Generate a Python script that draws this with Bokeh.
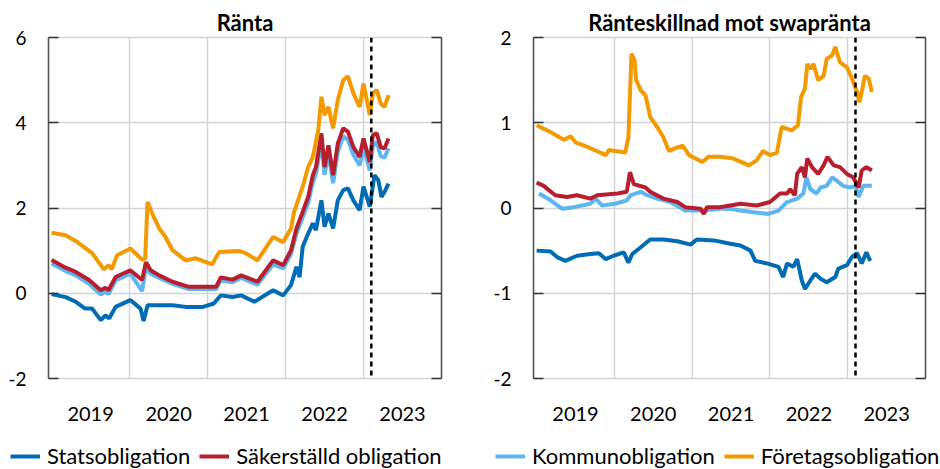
from bokeh.plotting import figure
from bokeh.models import FixedTicker, LinearAxis, Span, Legend, LegendItem, Range1d
from bokeh.layouts import column, row
from bokeh.embed import file_html
from bokeh.resources import INLINE

# ---------------- data (decimal years) ----------------
# Left panel: Ränta (interest rate, %)
rate_stats_t = [2019.00, 2019.18, 2019.31, 2019.43, 2019.52, 2019.63, 2019.69, 2019.74, 2019.82, 2020.01,
                2020.14, 2020.18, 2020.23, 2020.38, 2020.55, 2020.72, 2020.94, 2021.08, 2021.17, 2021.32,
                2021.43, 2021.60, 2021.84, 2021.97, 2022.07, 2022.14, 2022.18, 2022.22, 2022.29, 2022.35,
                2022.39, 2022.46, 2022.50, 2022.55, 2022.61, 2022.67, 2022.74, 2022.80, 2022.87, 2022.95,
                2023.00, 2023.08, 2023.14, 2023.19, 2023.23, 2023.27, 2023.32]
rate_stats_v = [-0.02, -0.09, -0.20, -0.36, -0.36, -0.63, -0.52, -0.59, -0.32, -0.16,
                -0.36, -0.65, -0.28, -0.28, -0.28, -0.32, -0.32, -0.24, -0.05, -0.09,
                -0.05, -0.20, 0.07, -0.05, 0.19, 0.62, 0.38, 1.09, 1.40, 1.64,
                1.48, 2.18, 1.56, 1.87, 1.52, 2.18, 2.42, 2.46, 2.18, 1.95,
                2.50, 2.03, 2.77, 2.65, 2.26, 2.38, 2.57]

rate_sak_t = [2019.00, 2019.18, 2019.31, 2019.48, 2019.63, 2019.69, 2019.73, 2019.82, 2020.01, 2020.16,
              2020.21, 2020.27, 2020.38, 2020.55, 2020.76, 2020.94, 2021.11, 2021.17, 2021.32, 2021.43,
              2021.64, 2021.84, 2021.97, 2022.07, 2022.14, 2022.22, 2022.29, 2022.35, 2022.39, 2022.46,
              2022.50, 2022.55, 2022.61, 2022.67, 2022.74, 2022.80, 2022.87, 2022.95, 2023.00, 2023.08,
              2023.12, 2023.17, 2023.22, 2023.27, 2023.32]
rate_sak_v = [0.78, 0.60, 0.50, 0.31, 0.07, 0.13, 0.07, 0.38, 0.54, 0.31,
              0.73, 0.54, 0.42, 0.27, 0.15, 0.15, 0.15, 0.37, 0.32, 0.42,
              0.27, 0.77, 0.66, 1.01, 1.52, 1.91, 2.26, 2.77, 2.96, 3.75,
              2.96, 3.47, 2.77, 3.51, 3.87, 3.79, 3.43, 3.20, 3.63, 3.08,
              3.71, 3.75, 3.43, 3.40, 3.63]

rate_kom_t = rate_sak_t
rate_kom_v = [0.70, 0.52, 0.42, 0.22, -0.03, 0.04, -0.02, 0.30, 0.46, 0.05,
              0.60, 0.46, 0.36, 0.22, 0.10, 0.10, 0.10, 0.30, 0.26, 0.36,
              0.20, 0.68, 0.58, 0.92, 1.40, 1.78, 2.12, 2.60, 2.80, 3.55,
              2.78, 3.28, 2.58, 3.32, 3.68, 3.60, 3.25, 3.00, 3.42, 2.88,
              3.45, 3.55, 3.22, 3.18, 3.40]

rate_for_t = [2019.00, 2019.18, 2019.33, 2019.52, 2019.67, 2019.73, 2019.77, 2019.84, 2020.01, 2020.16,
              2020.20, 2020.23, 2020.29, 2020.38, 2020.46, 2020.55, 2020.72, 2020.85, 2021.06, 2021.15,
              2021.41, 2021.49, 2021.64, 2021.84, 2021.97, 2022.07, 2022.11, 2022.22, 2022.29, 2022.35,
              2022.42, 2022.46, 2022.50, 2022.55, 2022.61, 2022.67, 2022.74, 2022.80, 2022.87, 2022.95,
              2023.00, 2023.08, 2023.12, 2023.17, 2023.22, 2023.27, 2023.32]
rate_for_v = [1.42, 1.36, 1.20, 0.94, 0.56, 0.66, 0.56, 0.89, 1.05, 0.79,
              0.82, 2.14, 1.87, 1.52, 1.32, 1.01, 0.77, 0.82, 0.68, 0.97,
              0.99, 0.94, 0.77, 1.32, 1.20, 1.52, 1.91, 2.50, 2.96, 3.20,
              3.83, 4.61, 4.18, 4.37, 3.87, 4.53, 5.00, 5.09, 4.69, 4.37,
              4.92, 4.18, 4.69, 4.77, 4.45, 4.37, 4.65]

# Right panel: Ränteskillnad mot swapränta (spread, percentage points)
spr_stats_t = [2019.00, 2019.18, 2019.27, 2019.37, 2019.52, 2019.69, 2019.80, 2019.89, 2019.99, 2020.12,
               2020.18, 2020.23, 2020.34, 2020.46, 2020.63, 2020.81, 2020.98, 2021.06, 2021.28, 2021.49,
               2021.62, 2021.75, 2021.81, 2021.96, 2022.11, 2022.17, 2022.22, 2022.30, 2022.35, 2022.41,
               2022.45, 2022.52, 2022.58, 2022.65, 2022.73, 2022.84, 2022.88, 2022.99, 2023.05, 2023.12,
               2023.18, 2023.24, 2023.29]
spr_stats_v = [-0.50, -0.51, -0.58, -0.62, -0.56, -0.54, -0.53, -0.60, -0.56, -0.52,
               -0.64, -0.54, -0.46, -0.37, -0.37, -0.39, -0.43, -0.37, -0.38, -0.42,
               -0.44, -0.50, -0.62, -0.65, -0.69, -0.81, -0.65, -0.69, -0.60, -0.85,
               -0.95, -0.85, -0.77, -0.83, -0.87, -0.81, -0.71, -0.67, -0.58, -0.53,
               -0.65, -0.52, -0.62]

spr_sak_t = [2019.00, 2019.09, 2019.24, 2019.39, 2019.52, 2019.69, 2019.78, 2020.04, 2020.16, 2020.20,
             2020.25, 2020.40, 2020.46, 2020.63, 2020.81, 2020.91, 2021.11, 2021.15, 2021.19, 2021.36,
             2021.49, 2021.62, 2021.83, 2022.00, 2022.13, 2022.22, 2022.26, 2022.32, 2022.35, 2022.41,
             2022.45, 2022.48, 2022.54, 2022.62, 2022.69, 2022.74, 2022.82, 2022.90, 2022.99, 2023.07,
             2023.14, 2023.18, 2023.24, 2023.31]
spr_sak_v = [0.30, 0.26, 0.15, 0.13, 0.15, 0.11, 0.15, 0.17, 0.19, 0.42,
             0.28, 0.24, 0.19, 0.11, 0.07, 0.01, -0.01, -0.07, 0.01, 0.01,
             0.03, 0.05, 0.03, 0.07, 0.17, 0.17, 0.22, 0.15, 0.40, 0.48,
             0.36, 0.58, 0.48, 0.40, 0.50, 0.60, 0.50, 0.48, 0.40, 0.36,
             0.24, 0.44, 0.48, 0.44]

spr_kom_t = [2019.03, 2019.18, 2019.33, 2019.48, 2019.69, 2019.76, 2019.84, 2020.01, 2020.16, 2020.21,
             2020.34, 2020.42, 2020.55, 2020.72, 2020.91, 2021.15, 2021.36, 2021.49, 2021.62, 2021.79,
             2021.98, 2022.11, 2022.22, 2022.35, 2022.43, 2022.47, 2022.52, 2022.60, 2022.65, 2022.73,
             2022.80, 2022.86, 2022.94, 2023.03, 2023.10, 2023.14, 2023.20, 2023.31]
spr_kom_v = [0.17, 0.09, -0.01, 0.01, 0.05, 0.11, 0.03, 0.05, 0.09, 0.15,
             0.19, 0.15, 0.11, 0.07, -0.03, -0.03, -0.01, -0.01, -0.03, -0.05,
             -0.07, -0.03, 0.07, 0.11, 0.17, 0.36, 0.22, 0.17, 0.24, 0.26,
             0.36, 0.32, 0.26, 0.24, 0.26, 0.13, 0.26, 0.26]

spr_for_t = [2019.00, 2019.18, 2019.35, 2019.44, 2019.50, 2019.67, 2019.89, 2019.93, 2020.14, 2020.18,
             2020.22, 2020.26, 2020.28, 2020.34, 2020.40, 2020.46, 2020.55, 2020.63, 2020.70, 2020.81,
             2020.88, 2020.96, 2021.13, 2021.21, 2021.36, 2021.53, 2021.73, 2021.83, 2021.91, 2022.00,
             2022.09, 2022.15, 2022.28, 2022.36, 2022.40, 2022.45, 2022.48, 2022.52, 2022.56, 2022.62,
             2022.69, 2022.73, 2022.80, 2022.84, 2022.90, 2022.99, 2023.05, 2023.12, 2023.15, 2023.18,
             2023.22, 2023.27, 2023.31]
spr_for_v = [0.97, 0.89, 0.80, 0.84, 0.77, 0.71, 0.62, 0.68, 0.65, 0.83,
             1.81, 1.73, 1.50, 1.38, 1.32, 1.07, 0.95, 0.83, 0.67, 0.71,
             0.73, 0.62, 0.54, 0.60, 0.60, 0.58, 0.50, 0.56, 0.67, 0.62,
             0.65, 0.95, 0.91, 0.97, 1.30, 1.40, 1.69, 1.63, 1.69, 1.50,
             1.55, 1.75, 1.79, 1.89, 1.71, 1.65, 1.53, 1.36, 1.24, 1.36,
             1.55, 1.52, 1.36]

year_labels = ["2019", "2020", "2021", "2022", "2023"]
year_label_pos = [2019.5, 2020.5, 2021.5, 2022.5, 2023.5]
year_grid = [2020, 2021, 2022, 2023]
marker_date = 2023.10
left_yticks = [-2, 0, 2, 4, 6]
right_yticks = [-2, -1, 0, 1, 2]
series_names = ["Statsobligation", "Säkerställd obligation", "Kommunobligation", "Företagsobligation"]

# ---------------- styling ----------------
FONT = "Lato"
C_STATS = "#006CB5"
C_SAK = "#B71F2E"
C_KOM = "#5DB5F1"
C_FOR = "#F39A00"
GRID = "#d4d4d4"
AXIS = "#555555"
LW = 4
X0, X1 = 2018.96, 2024.0


def make_panel(title, yticks, data, border_left, border_right, fw):
    p = figure(frame_width=fw, frame_height=341,
               x_range=Range1d(X0, X1), y_range=Range1d(yticks[0], yticks[-1]),
               output_backend="svg", toolbar_location=None,
               min_border_left=border_left, min_border_right=border_right,
               min_border_top=37, min_border_bottom=55)
    p.title.text = title
    p.title.align = "center"
    p.title.text_font = FONT
    p.title.text_font_size = "22px"
    p.title.text_font_style = "bold"
    p.title.text_color = "#000000"
    p.title.standoff = 3
    p.outline_line_color = GRID
    p.outline_line_width = 1.5
    p.background_fill_color = "white"
    p.border_fill_color = "white"

    # x axis
    xa = p.xaxis[0]
    xa.ticker = FixedTicker(ticks=year_label_pos)
    xa.major_label_overrides = {pos: lab for pos, lab in zip(year_label_pos, year_labels)}
    xa.axis_line_color = None
    xa.major_tick_line_color = None
    xa.minor_tick_line_color = None
    xa.major_label_standoff = 22
    xa.major_label_text_font = FONT
    xa.major_label_text_font_size = "20px"
    xa.major_label_text_color = "#000000"

    # y axis
    ya = p.yaxis[0]
    ya.ticker = FixedTicker(ticks=yticks)
    ya.major_label_overrides = {t: str(t) for t in yticks}
    ya.axis_line_color = AXIS
    ya.axis_line_width = 1.5
    ya.major_tick_line_color = "#333333"
    ya.major_tick_line_width = 1.5
    ya.major_tick_in = 10
    ya.major_tick_out = 0
    ya.minor_tick_line_color = None
    ya.major_label_standoff = 22
    ya.major_label_text_font = FONT
    ya.major_label_text_font_size = "19px"
    ya.major_label_text_color = "#000000"

    # right axis: tick marks only (minor ticks carry no labels)
    ra = LinearAxis(ticker=FixedTicker(ticks=[], minor_ticks=yticks))
    ra.axis_line_color = AXIS
    ra.axis_line_width = 1.5
    ra.major_tick_line_color = None
    ra.minor_tick_line_color = "#333333"
    ra.minor_tick_line_width = 1.5
    ra.minor_tick_in = 10
    ra.minor_tick_out = 0
    ra.major_label_standoff = 0
    p.add_layout(ra, "right")

    p.xgrid.ticker = FixedTicker(ticks=year_grid)
    p.xgrid.grid_line_color = GRID
    p.xgrid.grid_line_width = 1.5
    p.ygrid.ticker = FixedTicker(ticks=yticks)
    p.ygrid.grid_line_color = GRID
    p.ygrid.grid_line_width = 1.5

    (st_t, st_v), (sk_t, sk_v), (km_t, km_v), (fo_t, fo_v) = data
    p.line(km_t, km_v, line_color=C_KOM, line_width=LW)
    p.line(sk_t, sk_v, line_color=C_SAK, line_width=LW)
    p.line(st_t, st_v, line_color=C_STATS, line_width=LW)
    p.line(fo_t, fo_v, line_color=C_FOR, line_width=LW)

    p.add_layout(Span(location=marker_date, dimension="height", line_color="black",
                      line_width=2.5, line_dash="5 4"))
    return p


p1 = make_panel("Ränta", left_yticks,
                [(rate_stats_t, rate_stats_v), (rate_sak_t, rate_sak_v),
                 (rate_kom_t, rate_kom_v), (rate_for_t, rate_for_v)],
                48, 30, 393)
p2 = make_panel("Ränteskillnad mot swapränta", right_yticks,
                [(spr_stats_t, spr_stats_v), (spr_sak_t, spr_sak_v),
                 (spr_kom_t, spr_kom_v), (spr_for_t, spr_for_v)],
                62, 15, 392)

# legend strip
pl = figure(width=940, height=36, x_range=Range1d(0, 1), y_range=Range1d(0, 1),
            output_backend="svg", toolbar_location=None,
            min_border_left=0, min_border_right=0, min_border_top=0, min_border_bottom=0)
pl.axis.visible = False
pl.grid.visible = False
pl.outline_line_color = None
colors = [C_STATS, C_SAK, C_KOM, C_FOR]
rends = [pl.line([-5, -4], [-5, -4], line_color=c, line_width=LW) for c in colors]


def make_legend(items, x):
    lg = Legend(items=items, location=(x, 0), orientation="horizontal",
                glyph_width=30, glyph_height=20, label_standoff=7, spacing=9,
                padding=0, margin=0, border_line_color=None, background_fill_alpha=0,
                label_text_font=FONT, label_text_font_size="22px", label_text_color="#000000")
    return lg


pl.add_layout(make_legend([LegendItem(label=series_names[0], renderers=[rends[0]]),
                           LegendItem(label=series_names[1], renderers=[rends[1]])], 10))
pl.add_layout(make_legend([LegendItem(label=series_names[2], renderers=[rends[2]]),
                           LegendItem(label=series_names[3], renderers=[rends[3]])], 495))

layout = column(row(p1, p2), pl)
open("out.html", "w").write(file_html(layout, INLINE))
